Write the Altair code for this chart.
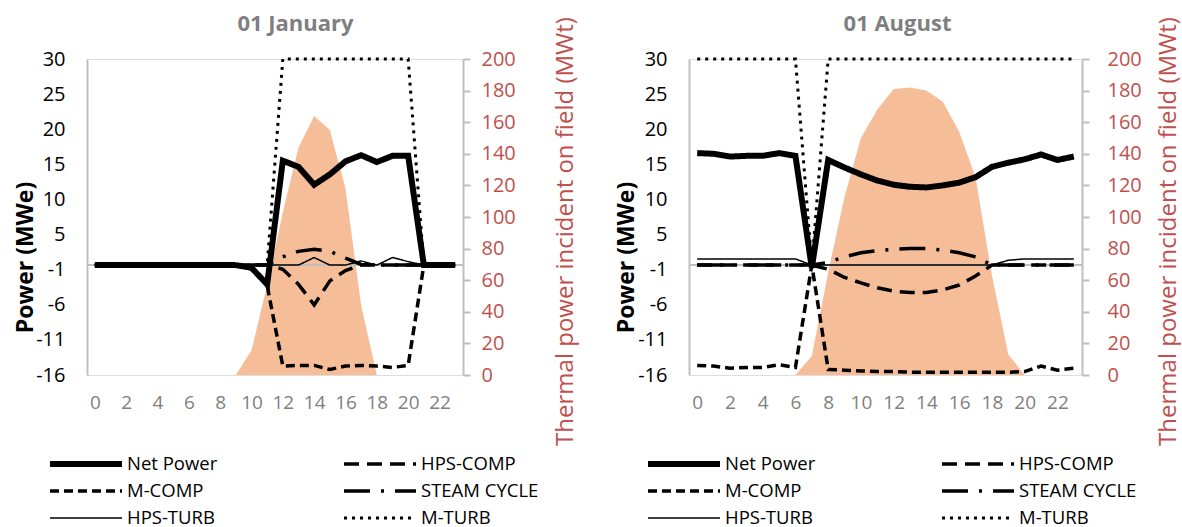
import json
import altair as alt
import pandas as pd

FONT = "Open Sans"
RED = "#C0504D"
GRAY_AXIS = "#BFBFBF"
ORANGE = "#F6BE98"

HOURS = list(range(24))
SERIES = ["Net Power", "HPS-COMP", "M-COMP", "STEAM CYCLE", "HPS-TURB", "M-TURB"]
# legend is laid out column by column: this order gives the original row-wise reading
LEGEND_ORDER = ["Net Power", "M-COMP", "HPS-TURB", "HPS-COMP", "STEAM CYCLE", "M-TURB"]

# ---- 01 January ----
jan_net = [0, 0, 0, 0, 0, 0, 0, 0, 0, 0, -0.4, -2.8, 15.2, 14.3, 11.7, 13.2,
           15.1, 16.0, 15.0, 15.9, 15.9, 0, 0, 0]
jan_hps_comp = [0, 0, 0, 0, 0, 0, 0, 0, 0, 0, 0, 0, -0.6, -2.8, -5.8, -2.3,
                -0.8, 0, 0, 0, 0, 0, 0, 0]
jan_m_comp = [0, 0, 0, 0, 0, 0, 0, 0, 0, 0, -0.3, -3.0, -14.7, -14.6, -14.6, -15.2,
              -14.7, -14.6, -14.7, -14.9, -14.6, 0, 0, 0]
jan_steam = [0, 0, 0, 0, 0, 0, 0, 0, 0, 0, 0, 0, 1.2, 2.0, 2.3, 2.0,
             1.0, 0.1, 0, 0, 0, 0, 0, 0]
jan_hps_turb = [0, 0, 0, 0, 0, 0, 0, 0, 0, 0, 0, 0, 0, 0, 1.1, 0,
                0, 0.6, 0, 1.1, 0.5, 0, 0, 0]
jan_m_turb = [0, 0, 0, 0, 0, 0, 0, 0, 0, 0, 0, 0, 30, 30, 30, 30,
              30, 30, 30, 30, 30, 0, 0, 0]
jan_thermal = [0, 0, 0, 0, 0, 0, 0, 0, 0, 0, 15.6, 57, 103, 144, 164, 155,
               118, 44, 0, 0, 0, 0, 0, 0]

# ---- 01 August ----
aug_net = [16.3, 16.2, 15.8, 15.9, 15.9, 16.3, 15.9, -0.4, 15.3, 14.2, 13.2, 12.3,
           11.7, 11.4, 11.3, 11.6, 12.0, 12.8, 14.3, 14.9, 15.4, 16.1, 15.3, 15.8]
aug_hps_comp = [0, 0, 0, 0, 0, 0, 0, 0, -0.6, -1.8, -2.6, -3.3,
                -3.8, -4.0, -4.0, -3.6, -2.9, -1.6, 0, 0, 0, 0, 0, 0]
aug_m_comp = [-14.6, -14.7, -15.0, -14.9, -14.9, -14.5, -14.9, 0, -15.2, -15.3, -15.4, -15.5,
              -15.5, -15.6, -15.6, -15.6, -15.6, -15.6, -15.6, -15.6, -15.5, -14.7, -15.3, -15.0]
aug_steam = [0, 0, 0, 0, 0, 0, 0, 0, 0.4, 1.2, 1.8, 2.1,
             2.3, 2.4, 2.4, 2.2, 1.8, 1.2, 0, 0, 0, 0, 0, 0]
aug_hps_turb = [0.9, 0.9, 0.9, 0.9, 0.9, 0.9, 0.9, 0, 0, 0, 0, 0,
                0, 0, 0, 0, 0, 0, 0, 0.7, 0.9, 0.9, 0.9, 0.9]
aug_m_turb = [30, 30, 30, 30, 30, 30, 30, 0, 30, 30, 30, 30,
              30, 30, 30, 30, 30, 30, 30, 30, 30, 30, 30, 30]
aug_thermal = [0, 0, 0, 0, 0, 0, 0, 12, 65, 113, 150, 168,
               181, 182, 180, 173, 154, 125, 63, 13, 0, 0, 0, 0]

# left axis labels (as printed on the original chart, evenly spaced)
LEFT_LABELS = ["-16", "-11", "-6", "-1", "5", "10", "15", "20", "25", "30"]
Y_MIN, Y_MAX = -16, 30
RIGHT_TICKS = list(range(0, 201, 20))
X_LABELS = list(range(0, 23, 2))

STYLE_DASH = {"Net Power": [1, 0], "HPS-COMP": [15, 8], "M-COMP": [9, 5],
              "STEAM CYCLE": [26, 11, 3, 11], "HPS-TURB": [1, 0], "M-TURB": [3, 5]}
STYLE_WIDTH = {"Net Power": 6, "HPS-COMP": 3.5, "M-COMP": 3.5,
               "STEAM CYCLE": 3.5, "HPS-TURB": 1.5, "M-TURB": 3}

left_tick_values = [Y_MIN + k * (Y_MAX - Y_MIN) / 9 for k in range(10)]
label_expr = f"{json.dumps(LEFT_LABELS)}[round((datum.value - ({Y_MIN})) * 9 / {Y_MAX - Y_MIN})]"


def panel(title, series_vals, thermal, width, legend_x, left_title_x, right_title_x, right_label_pad):
    rows = []
    for name, vals in zip(SERIES, series_vals):
        for h, v in zip(HOURS, vals):
            rows.append({"hour": h, "series": name, "value": v})
    df = pd.DataFrame(rows)
    tdf = pd.DataFrame({"hour": HOURS, "thermal": thermal})
    zdf = pd.DataFrame({"zero": [0]})

    x_axis = alt.Axis(values=X_LABELS, title=None, domain=False, ticks=False, grid=False,
                      labelColor="#808080", labelFontSize=19, labelFont=FONT,
                      labelPadding=18, labelFlush=False, labelOverlap=False)
    x = alt.X("hour:Q", scale=alt.Scale(domain=[-0.5, 23.5], nice=False, zero=False), axis=x_axis)

    area = alt.Chart(tdf).mark_area(color=ORANGE, opacity=1).encode(
        x=x,
        y=alt.Y("thermal:Q", scale=alt.Scale(domain=[0, 200], nice=False),
                axis=alt.Axis(orient="right", values=RIGHT_TICKS, grid=False,
                              title="Thermal power incident on field (MWt)",
                              domainColor=GRAY_AXIS, domainWidth=2, tickColor=GRAY_AXIS,
                              tickWidth=2, tickSize=7,
                              labelColor=RED, labelFontSize=20, labelFont=FONT,
                              labelPadding=right_label_pad,
                              titleColor=RED, titleFontSize=24, titleFontWeight="normal",
                              titleFont=FONT, titleAngle=270, titleAlign="center",
                              titleBaseline="middle", titleX=right_title_x, titleY=172)),
    )

    zero = alt.Chart(zdf).mark_rule(color=GRAY_AXIS, strokeWidth=2).encode(
        y=alt.Y("zero:Q", scale=alt.Scale(domain=[Y_MIN, Y_MAX], nice=False, zero=False), axis=None)
    )

    leg = alt.Legend(title=None, orient="none", legendX=legend_x, legendY=395, columns=2,
                     columnPadding=123, rowPadding=7, symbolType="stroke",
                     symbolSize=72 * 72, symbolStrokeColor="black", labelFont=FONT,
                     labelFontSize=18.5, labelColor="black", labelOffset=2, clipHeight=20,
                     padding=0, labelLimit=300)

    lines = alt.Chart(df).mark_line(color="black").encode(
        x=x,
        y=alt.Y("value:Q", scale=alt.Scale(domain=[Y_MIN, Y_MAX], nice=False, zero=False),
                axis=alt.Axis(orient="left", values=left_tick_values, labelExpr=label_expr,
                              grid=False, ticks=False, domainColor=GRAY_AXIS, domainWidth=2,
                              labelFontSize=20, labelFont=FONT, labelColor="black",
                              labelPadding=22, title="Power (MWe)", titleFontSize=23,
                              titleFont=FONT, titleFontWeight="bold", titleColor="black",
                              titleAngle=270, titleAlign="center", titleBaseline="middle",
                              titleX=left_title_x, titleY=198)),
        strokeDash=alt.StrokeDash("series:N",
                                  scale=alt.Scale(type="ordinal", domain=LEGEND_ORDER,
                                                  range=[STYLE_DASH[s] for s in LEGEND_ORDER]),
                                  legend=leg),
        strokeWidth=alt.StrokeWidth("series:N",
                                    scale=alt.Scale(type="ordinal", domain=LEGEND_ORDER,
                                                    range=[STYLE_WIDTH[s] for s in LEGEND_ORDER]),
                                    legend=leg),
    )

    return alt.layer(area, zero, lines).resolve_scale(y="independent").properties(
        width=width, height=316,
        title=alt.TitleParams(title, font=FONT, fontSize=22, fontWeight="bold", color="#7F7F7F",
                              anchor="middle", frame="bounds", dy=23),
    )


p1 = panel("01 January",
           [jan_net, jan_hps_comp, jan_m_comp, jan_steam, jan_hps_turb, jan_m_turb],
           jan_thermal, 376, -40, -62, 102, 11)
p2 = panel("01 August",
           [aug_net, aug_hps_comp, aug_m_comp, aug_steam, aug_hps_turb, aug_m_turb],
           aug_thermal, 393, -44, -63, 86, 18)

chart = alt.hconcat(p1, p2, spacing=36).resolve_scale(
    strokeDash="independent", strokeWidth="independent"
).resolve_legend(
    strokeDash="independent", strokeWidth="independent"
).configure_view(stroke=None).configure(
    font=FONT, padding={"left": 13, "top": 12, "right": 0, "bottom": 0}, background="white"
)

chart.save("out.html", embed_options={"renderer": "svg", "actions": False})
